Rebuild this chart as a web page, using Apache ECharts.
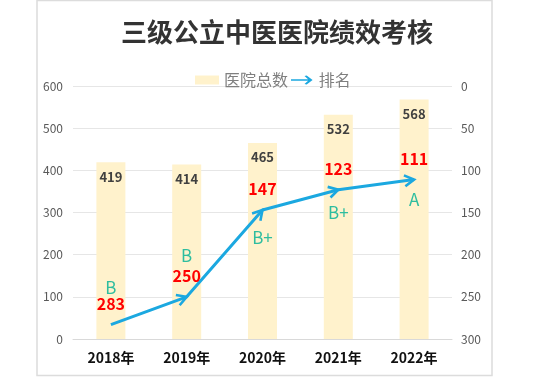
<!DOCTYPE html>
<html>
<head>
<meta charset="utf-8">
<title>三级公立中医医院绩效考核</title>
<script src="https://cdn.jsdelivr.net/npm/echarts@6/dist/echarts.min.js"></script>
<style>
    html, body { margin: 0; padding: 0; background: #fff; }
    #chart { width: 540px; height: 377px; }
</style>
</head>
<body>
<div id="chart"></div>
<script>
// 数据
const years = ['2018年', '2019年', '2020年', '2021年', '2022年']
const hospitalTotal = [419, 414, 465, 532, 568]
const rank = [283, 250, 147, 123, 111]
const grades = ['B', 'B', 'B+', 'B+', 'A']

// 等级文字相对排名点的偏移(px)
const gradeOffsetY = [-37, -41, 28, 23, 20]

const lineColor = '#1BA8E0'
const cjk = '"Noto Sans CJK SC", "Noto Sans", sans-serif'
const arrowIcon = 'path://M0,4.2 L19,4.2 L15,0.6 L17.4,0 L24,5 L17.4,10 L15,9.4 L19,5.8 L0,5.8 Z'

const myChart = echarts.init(document.getElementById('chart'))

const option = {
    backgroundColor: '#fff',
    textStyle: { fontFamily: cjk },
    title: {
        text: '三级公立中医医院绩效考核',
        left: 116,
        top: 14,
        textStyle: { fontSize: 26, fontWeight: 'bold', color: '#333', fontFamily: cjk }
    },
    graphic: [
        {
            type: 'rect',
            shape: { x: 37, y: 0.5, width: 455, height: 375 },
            style: { fill: 'none', stroke: '#dcdcdc', lineWidth: 1.5 },
            silent: true
        }
    ],
    legend: {
        left: 190,
        top: 67,
        itemWidth: 24,
        itemHeight: 9,
        itemGap: 3,
        textStyle: { color: '#7f7f7f', fontSize: 16, fontFamily: cjk },
        data: [
            { name: '医院总数', icon: 'rect' },
            { name: '排名', icon: arrowIcon }
        ]
    },
    grid: {
        left: 73,
        right: 88,
        top: 86,
        bottom: 38
    },
    xAxis: {
        type: 'category',
        data: years,
        axisLine: { show: true, lineStyle: { color: '#d9d9d9' } },
        axisTick: { show: false },
        axisLabel: {
            margin: 12,
            color: '#111',
            fontSize: 14,
            fontWeight: 'bold',
            fontFamily: cjk
        }
    },
    yAxis: [
        {
            type: 'value',
            min: 0,
            max: 600,
            interval: 100,
            axisLine: { show: false },
            axisTick: { show: false },
            axisLabel: { color: '#595959', fontSize: 12, margin: 10 },
            splitLine: { lineStyle: { color: '#e6e6e6' } }
        },
        {
            type: 'value',
            min: 0,
            max: 300,
            interval: 50,
            inverse: true,
            axisLine: { show: false },
            axisTick: { show: false },
            axisLabel: { color: '#595959', fontSize: 12, margin: 9 },
            splitLine: { show: false }
        }
    ],
    series: [
        {
            name: '医院总数',
            type: 'bar',
            barWidth: 29,
            itemStyle: { color: '#FFF2CC' },
            label: {
                show: true,
                position: 'insideTop',
                distance: 8,
                color: '#404040',
                fontSize: 13,
                fontWeight: 'bold'
            },
            data: hospitalTotal
        },
        {
            name: '排名',
            type: 'line',
            yAxisIndex: 1,
            symbol: 'circle',
            symbolSize: 0.1,
            showSymbol: true,
            itemStyle: { color: lineColor },
            lineStyle: { color: lineColor, width: 3 },
            label: {
                show: true,
                position: 'top',
                distance: 13,
                color: '#FF0000',
                fontSize: 16,
                fontWeight: 'bold'
            },
            z: 3,
            data: rank
        },
        {
            // 箭头与等级
            name: '排名',
            type: 'custom',
            yAxisIndex: 1,
            z: 4,
            silent: true,
            renderItem(params, api) {
                const i = params.dataIndex
                const p = api.coord([i, api.value(1)])
                const children = [
                    {
                        type: 'text',
                        x: p[0],
                        y: p[1] + gradeOffsetY[i],
                        style: {
                            text: grades[i],
                            fill: '#2EBD9F',
                            fontSize: 17,
                            fontFamily: cjk,
                            align: 'center',
                            verticalAlign: 'middle'
                        }
                    }
                ]
                if (i > 0) {
                    const q = api.coord([i - 1, rank[i - 1]])
                    const a = Math.atan2(p[1] - q[1], p[0] - q[0])
                    const len = 11
                    const t = Math.PI / 6
                    children.push({
                        type: 'polyline',
                        shape: {
                            points: [
                                [p[0] - len * Math.cos(a - t), p[1] - len * Math.sin(a - t)],
                                [p[0], p[1]],
                                [p[0] - len * Math.cos(a + t), p[1] - len * Math.sin(a + t)]
                            ]
                        },
                        style: { stroke: lineColor, lineWidth: 2.6, fill: 'none', lineJoin: 'miter' }
                    })
                }
                return { type: 'group', children }
            },
            data: rank.map((v, i) => [i, v])
        }
    ]
}

myChart.setOption(option)
</script>
</body>
</html>
